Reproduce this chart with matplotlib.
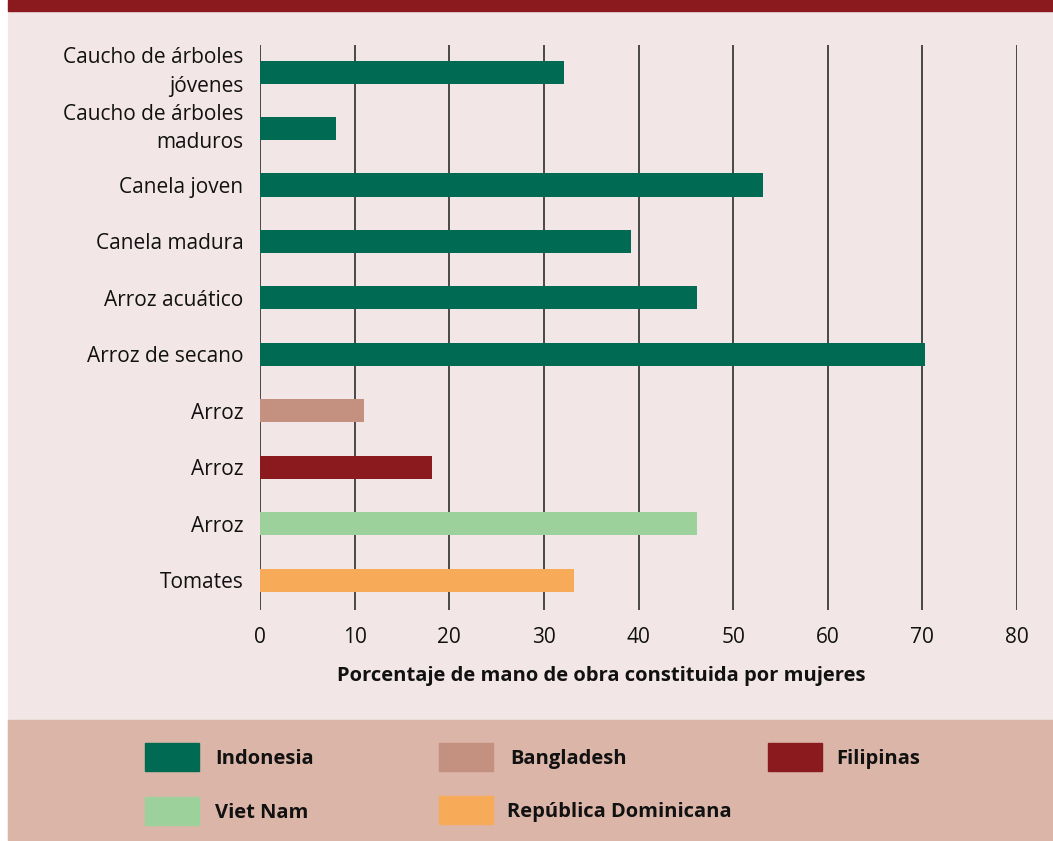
import matplotlib.pyplot as plt
from matplotlib.patches import Rectangle

plt.rcParams['font.family'] = ['Open Sans', 'DejaVu Sans']

# Datos
cultivos = ['Caucho de árboles\njóvenes', 'Caucho de árboles\nmaduros', 'Canela joven',
            'Canela madura', 'Arroz acuático', 'Arroz de secano', 'Arroz', 'Arroz',
            'Arroz', 'Tomates']
porcentaje = [32.1, 8.0, 53.2, 39.2, 46.2, 70.3, 11.0, 18.2, 46.2, 33.2]
pais = ['Indonesia', 'Indonesia', 'Indonesia', 'Indonesia', 'Indonesia', 'Indonesia',
        'Bangladesh', 'Filipinas', 'Viet Nam', 'República Dominicana']

colores = {'Indonesia': '#006a52', 'Bangladesh': '#c49080', 'Filipinas': '#8b1a1e',
           'Viet Nam': '#9dd19b', 'República Dominicana': '#f7ab58'}

ticks_x = [0, 10, 20, 30, 40, 50, 60, 70, 80]

W, H = 1053, 841
fig = plt.figure(figsize=(W / 100, H / 100), dpi=100)
fig.patch.set_facecolor('white')

# Fondos
fig.patches.append(Rectangle((8 / W, 0), 1, 1, transform=fig.transFigure,
                             color='#f2e7e6', zorder=-3))
fig.patches.append(Rectangle((8 / W, 1 - 11 / H), 1, 11 / H, transform=fig.transFigure,
                             color='#8b1a1e', zorder=-2))
fig.patches.append(Rectangle((8 / W, 1 - 840 / H), 1, (840 - 720) / H,
                             transform=fig.transFigure, color='#dbb6a8', zorder=-2))

ax = fig.add_axes([260 / W, 1 - 610 / H, (1017 - 260) / W, (610 - 45) / H])
ax.set_facecolor('none')

y = list(range(len(cultivos)))
ax.barh(y, porcentaje, height=0.41, color=[colores[p] for p in pais], zorder=3)

ax.set_xlim(0, 80)
ax.set_ylim(len(cultivos) - 0.47, -0.48)
ax.set_xticks(ticks_x)
ax.set_yticks(y)
ax.set_yticklabels(cultivos, fontsize=15, linespacing=1.45)
for lab in ax.get_yticklabels():
    if '\n' in lab.get_text():
        lab.set_va('center')
for t in ticks_x:
    ax.axvline(t, color='#3c3c3c', lw=1.3, zorder=1)
for s in ax.spines.values():
    s.set_visible(False)
ax.tick_params(axis='both', length=0, labelsize=15, colors='#111111')
ax.tick_params(axis='x', pad=12)
ax.tick_params(axis='y', pad=12)
ax.set_xlabel('Porcentaje de mano de obra constituida por mujeres', fontsize=14.5,
              fontweight='bold', color='#111111')
ax.xaxis.set_label_coords((601 - 260) / (1017 - 260), -(676 - 610) / (610 - 45))
ax.xaxis.label.set_va('center')

# Leyenda
leyenda = [('Indonesia', 145, 743, 215), ('Bangladesh', 439, 743, 510),
           ('Filipinas', 768, 743, 836), ('Viet Nam', 145, 797, 215),
           ('República Dominicana', 439, 796, 507)]
for nombre, x0, y0, xt in leyenda:
    fig.patches.append(Rectangle((x0 / W, 1 - (y0 + 28) / H), 54 / W, 28 / H,
                                 transform=fig.transFigure, color=colores[nombre]))
    fig.text(xt / W, 1 - (y0 + 16) / H, nombre, fontsize=14.5, fontweight='bold',
             va='center', ha='left', color='#111111')

plt.savefig('out.png', dpi=100, facecolor=fig.get_facecolor())
